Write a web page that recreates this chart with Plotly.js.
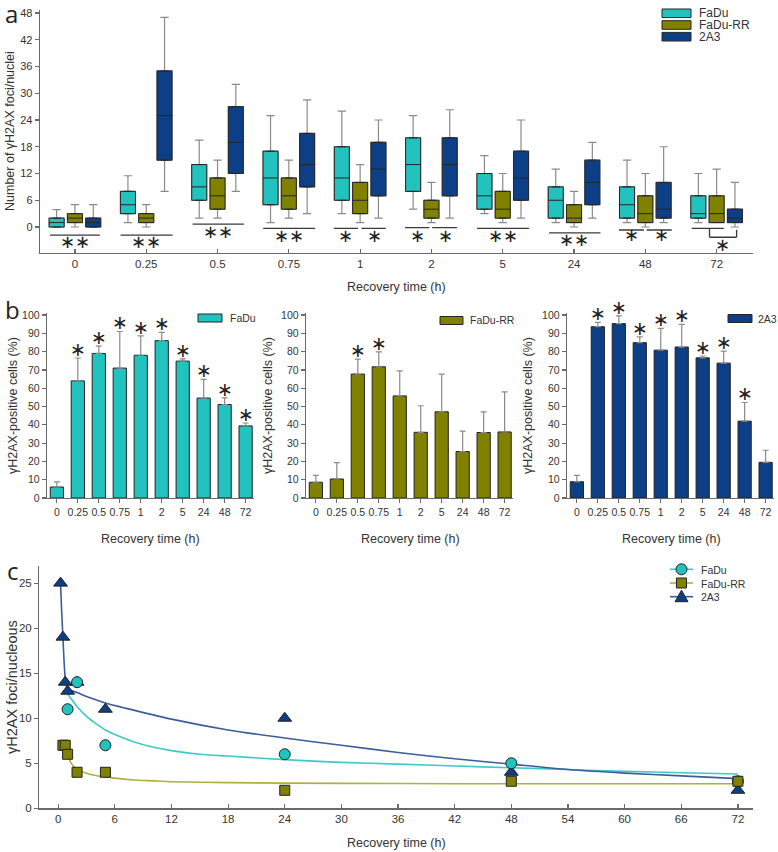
<!DOCTYPE html>
<html><head><meta charset="utf-8">
<script src="https://cdn.plot.ly/plotly-3.0.1.min.js"></script>
<style>html,body{margin:0;padding:0;background:#fff}#chart{width:778px;height:852px}</style>
</head><body><div id="chart"></div>
<script>
// ---------- categories ----------
const times = ["0","0.25","0.5","0.75","1","2","5","24","48","72"];
const lineNames = ["FaDu","FaDu-RR","2A3"];

// ---------- panel a: box statistics (foci per nucleus) ----------
const faduLow  = [0,1,2,1,3,4,3,1,1,1];
const faduQ1   = [0,3,6,5,6,8,4,2,2,2];
const faduMed  = [1,5,9,11,11,14,7,6,5,3];
const faduQ3   = [2,8,14,17,18,20,12,9,9,7];
const faduHigh = [3.9,11.5,19.5,25,26,25,16,13,15,12];

const rrLow  = [0,0,2,2,1,1,1,0,0,1];
const rrQ1   = [1,1,4,4,3,2,2,1,1,1];
const rrMed  = [2,2,7,7,6,4,4,2,3,3];
const rrQ3   = [3,3,11,11,10,6,8,5,7,7];
const rrHigh = [5,5,15,15,14,10,12,8,12,13];

const a3Low  = [0,8,8,3,2,2,2,2,1,0];
const a3Q1   = [0,15,12,9,7,7,6,5,2,1];
const a3Med  = [1,25,19,14,13,14,11,10,4,2];
const a3Q3   = [2,35,27,21,19,20,17,15,10,4];
const a3High = [5,47,32,28.5,24,26.3,24,19,18,10];

// significance marks for panel a: [x0, x1, y] lines and [x, y, text] stars
const sigLines = [[-0.35,0.35,-1.8],[0.64,1.37,-1.8],[1.65,2.37,0.67],[2.64,3.37,-0.3],
  [3.63,3.97,-0.3],[4.02,4.36,-0.3],[4.63,4.97,-0.15],[5.01,5.36,-0.15],
  [5.64,6.37,-0.3],[6.65,7.37,-1.3],[7.63,7.98,-0.67],[8.02,8.37,-0.67],[8.65,9.1,-0.3],
  [8.9,9.28,-2.3]];
const sigVLines = [[8.9,-0.3,-2.3],[9.28,-2.3,-0.6]];
const sigStars = [[0,-3.3,'∗∗'],[1,-3.3,'∗∗'],[2,-0.9,'∗∗'],[3,-1.8,'∗∗'],[3.8,-1.8,'∗'],[4.2,-1.8,'∗'],
  [4.8,-1.8,'∗'],[5.2,-1.8,'∗'],[6,-1.9,'∗∗'],[7,-2.8,'∗∗'],[7.81,-1.7,'∗'],[8.22,-1.7,'∗'],[9.08,-4.0,'∗']];

// ---------- panel b: % positive cells (mean, upper error) ----------
const pctFaDu = [6,64,79,71,78,86,74.8,54.6,51.1,39.4];
const errFaDu = [2.8,12.5,4,20,10.6,4.5,1.2,10.2,3.6,1.6];
const starFaDu = [0,1,1,1,1,1,1,1,1,1];
const pctRR = [8.6,10.4,67.7,71.7,55.8,35.9,47.1,25.4,35.8,36.1];
const errRR = [3.8,8.9,8.2,8.2,13.7,14.5,20.6,11.1,11.3,21.9];
const starRR = [0,0,1,1,0,0,0,0,0,0];
const pct2A3 = [8.9,93.6,95.3,84.9,80.8,82.5,76.6,73.7,42,19.5];
const err2A3 = [3.5,2.4,4.2,3.2,11.9,12.4,1,6.6,10.2,6.6];
const star2A3 = [0,1,1,1,1,1,1,1,1,0];

// ---------- panel c: foci per nucleus vs time, with fitted curves ----------
const cFaDuT = [1,2,5,24,48,72];
const cFaDuY = [11,14,7,6,5,3];
const cRRT = [0.5,0.75,1,2,5,24,48,72];
const cRRY = [7,7,6,4,4,2,3,3];
const c2A3T = [0.25,0.5,0.75,1,2,5,24,48,72];
const c2A3Y = [25,19,14,13,14,11,10,4,2];

const fitFaDuT = [1,1.5,2,3,4,5,6,8,10,12,15,18,24,30,36,42,48,54,60,66,72];
const fitFaDuY = [12.7,12.0,11.3,10.2,9.4,8.7,8.2,7.4,6.8,6.4,6.0,5.8,5.4,5.1,4.9,4.7,4.5,4.3,4.1,3.95,3.8];
const fitRRT = [1,1.5,2,3,4,5,6,8,10,12,18,24,36,48,60,72];
const fitRRY = [5.8,4.8,4.3,3.9,3.65,3.5,3.35,3.15,3.05,2.95,2.85,2.8,2.75,2.72,2.72,2.72];
const fit2A3T = [0.25,0.35,0.5,0.6,0.7,0.8,0.9,1,1.3,2,3,5,8,12,18,24,30,36,42,48,54,60,66,72];
const fit2A3Y = [25,22.3,19,16.8,15,14,13.5,13.25,13.1,12.85,12.4,11.7,10.9,9.9,8.7,7.8,7.0,6.2,5.5,4.9,4.3,3.9,3.6,3.3];

// ---------- styling ----------
const colFaDu = '#22C2BE', colRR = '#818100', col2A3 = '#0D3F86';
const lineFaDu = '#3FC9C6', lineRR = '#B0B03C', line2A3 = '#3B5E9B';
const fillOf = {'FaDu': colFaDu, 'FaDu-RR': colRR, '2A3': col2A3};
const lineOf = {'FaDu': lineFaDu, 'FaDu-RR': lineRR, '2A3': line2A3};
const FONT = 'Liberation Sans, Arial, sans-serif';
const txt = '#333';
const W = 778, H = 852;
const px = v => v / W, py = v => 1 - v / H;

const traces = [];
// panel a: whisker layer (grey) + box layer (dark outline)
const boxSets = [
  ['FaDu', faduLow, faduQ1, faduMed, faduQ3, faduHigh],
  ['FaDu-RR', rrLow, rrQ1, rrMed, rrQ3, rrHigh],
  ['2A3', a3Low, a3Q1, a3Med, a3Q3, a3High]
];
boxSets.forEach(([name, lo, q1, md, q3, hi]) => {
  traces.push({type:'box', x: times, q1: q1, median: md, q3: q3, lowerfence: lo, upperfence: hi,
    name: name, offsetgroup: name, xaxis:'x', yaxis:'y', boxpoints:false, showlegend:false,
    fillcolor:'rgba(0,0,0,0)', line:{color:'#8a8a8a', width:1.2}, whiskerwidth:0.55, hoverinfo:'skip'});
  traces.push({type:'box', x: times, q1: q1, median: md, q3: q3,
    name: name, offsetgroup: name, xaxis:'x', yaxis:'y', boxpoints:false, showlegend:false,
    fillcolor: fillOf[name], line:{color:'#262626', width:1}, whiskerwidth:0.55});
});

// panel b bars
const barSets = [
  ['FaDu', pctFaDu, errFaDu, starFaDu, 'x2','y2'],
  ['FaDu-RR', pctRR, errRR, starRR, 'x3','y3'],
  ['2A3', pct2A3, err2A3, star2A3, 'x4','y4']
];
barSets.forEach(([name, v, e, s, xa, ya]) => {
  traces.push({type:'bar', x: times, y: v, name: name, xaxis: xa, yaxis: ya, showlegend:false,
    marker:{color: fillOf[name], line:{color:'#222', width:1}},
    error_y:{type:'data', array: e, arrayminus: e.map(()=>0), symmetric:false,
      color:'#8a8a8a', thickness:1.2, width:3}});
});

// panel c: fitted curves
[[fitFaDuT, fitFaDuY, lineFaDu],[fitRRT, fitRRY, lineRR],[fit2A3T, fit2A3Y, line2A3]].forEach(([t, y, c]) => {
  traces.push({type:'scatter', mode:'lines', x: t, y: y, xaxis:'x5', yaxis:'y5', showlegend:false,
    line:{color: c, width:1.6, shape:'spline', smoothing:0.6}, hoverinfo:'skip'});
});
// panel c: points (draw order 2A3, FaDu, FaDu-RR)
const ptSets = {
  'FaDu': [cFaDuT, cFaDuY, 'circle', 11],
  'FaDu-RR': [cRRT, cRRY, 'square', 10],
  '2A3': [c2A3T, c2A3Y, 'triangle-up', 12]
};
['2A3','FaDu','FaDu-RR'].forEach(n => {
  const [t, y, sym, sz] = ptSets[n];
  traces.push({type:'scatter', mode:'markers', x: t, y: y, xaxis:'x5', yaxis:'y5', showlegend:false,
    cliponaxis:false, name:n, marker:{symbol: sym, size: sz, color: fillOf[n], line:{color:'#222', width:1}}});
});

// ---------- annotations and shapes ----------
const annotations = [];
const shapes = [];
const ann = (x, y, text, size, extra) => annotations.push(Object.assign({
  xref:'paper', yref:'paper', x: px(x), y: py(y), text: text, showarrow:false,
  font:{family: FONT, size: size, color: txt}, xanchor:'center', yanchor:'middle'}, extra || {}));
const LETTER = {family:'Open Sans, DejaVu Sans, sans-serif', size:24, color:'#222'};

// panel letters
ann(3, 13, 'a', 24, {xanchor:'left', font: LETTER});
ann(3, 309, 'b', 24, {xanchor:'left', font: LETTER});
ann(5, 570, 'c', 24, {xanchor:'left', font: LETTER});

// axis titles
ann(396, 287, 'Recovery time (h)', 12.5);
ann(10, 131, 'Number of γH2AX foci/nuclei', 12.5, {textangle:-90});
ann(150, 539, 'Recovery time (h)', 12.5);
ann(410, 539, 'Recovery time (h)', 12.5);
ann(671, 539, 'Recovery time (h)', 12.5);
ann(13, 406, 'γH2AX-positive cells (%)', 12.5, {textangle:-90});
ann(268, 406, 'γH2AX-positive cells (%)', 12.5, {textangle:-90});
ann(528, 406, 'γH2AX-positive cells (%)', 12.5, {textangle:-90});
ann(396, 843, 'Recovery time (h)', 12.5);
ann(12, 687, 'γH2AX foci/nucleous', 14.5, {textangle:-90});

// panel a significance
sigLines.forEach(([x0, x1, y]) => shapes.push({type:'line', xref:'x', yref:'y', x0:x0, x1:x1, y0:y, y1:y,
  line:{color:'#3a3a3a', width:1.3}}));
sigVLines.forEach(([x, y0, y1]) => shapes.push({type:'line', xref:'x', yref:'y', x0:x, x1:x, y0:y0, y1:y1,
  line:{color:'#3a3a3a', width:1.3}}));
sigStars.forEach(([x, y, t]) => annotations.push({xref:'x', yref:'y', x:x, y:y, text:t, showarrow:false,
  font:{family:'DejaVu Sans, sans-serif', size:18, color:'#222'}, xanchor:'center', yanchor:'middle'}));

// panel b stars (x given as category index)
barSets.forEach(([name, v, e, s, xa, ya]) => {
  v.forEach((val, i) => { if (s[i]) annotations.push({xref: xa, yref: ya, x: i, y: val + e[i],
    text:'∗', showarrow:false, yshift:9, font:{family:'DejaVu Sans, sans-serif', size:19, color:'#222'},
    xanchor:'center', yanchor:'middle'}); });
});

// ---------- legends (drawn as keys) ----------
// panel a key
lineNames.forEach((n, i) => {
  const yc = 13.3 + i * 11.7;
  shapes.push({type:'rect', xref:'paper', yref:'paper', x0: px(662), x1: px(691), y0: py(yc + 4.3), y1: py(yc - 4.3),
    fillcolor: fillOf[n], line:{color:'#262626', width:1}});
  ann(697, yc, n, 12, {xanchor:'left', height: 11.5});
});
// panel b keys
[['FaDu', 198, 222, 318, 228], ['FaDu-RR', 440, 463, 320.5, 468], ['2A3', 728, 752, 318.5, 756]]
 .forEach(([n, x0, x1, yc, tx]) => {
  shapes.push({type:'rect', xref:'paper', yref:'paper', x0: px(x0), x1: px(x1), y0: py(yc + 4), y1: py(yc - 4),
    fillcolor: fillOf[n], line:{color:'#262626', width:1}});
  ann(tx, yc, n, 10.5, {xanchor:'left'});
 });
// panel c key
lineNames.forEach((n, i) => {
  const yc = 569.3 + i * 13.7, xc = 681.5;
  shapes.push({type:'line', xref:'paper', yref:'paper', x0: px(670), x1: px(693), y0: py(yc), y1: py(yc),
    line:{color: lineOf[n], width:1.6}});
  const mk = {xref:'paper', yref:'paper', fillcolor: fillOf[n], line:{color:'#222', width:1}};
  if (n === 'FaDu') shapes.push(Object.assign({type:'circle', x0: px(xc-5.5), x1: px(xc+5.5), y0: py(yc+5.5), y1: py(yc-5.5)}, mk));
  else if (n === 'FaDu-RR') shapes.push(Object.assign({type:'rect', x0: px(xc-5), x1: px(xc+5), y0: py(yc+5), y1: py(yc-5)}, mk));
  else shapes.push(Object.assign({type:'path', path: 'M' + px(xc-6.5) + ',' + py(yc+5) + ' L' + px(xc+6.5) + ',' + py(yc+5) +
    ' L' + px(xc) + ',' + py(yc-6.5) + ' Z'}, mk));
  ann(699, yc, n, 10.5, {xanchor:'left', height: 13});
});

// ---------- axes ----------
const axBase = {showline:true, linecolor:'#6a6a6a', linewidth:1.3, showgrid:false, zeroline:false,
  tickcolor:'#6a6a6a', tickwidth:1.2, ticklen:4, tickfont:{family: FONT, size:11, color: txt}, fixedrange:true};
const catX = (dom, anchor, range, ticks, fs) => Object.assign({}, axBase, {domain: dom, anchor: anchor,
  type:'category', categoryorder:'array', categoryarray: times, range: range, ticks: ticks, tickangle:0,
  tickfont:{family: FONT, size: fs, color: txt}});
const bY = (dom, anchor) => Object.assign({}, axBase, {domain: dom, anchor: anchor, range:[0,101.1],
  tickvals:[0,10,20,30,40,50,60,70,80,90,100], ticks:'outside', tickfont:{family: FONT, size:10.5, color: txt}});
const bYdom = [py(498), py(313)];

const layout = {
  width: W, height: H, margin:{l:0, r:0, t:0, b:0}, paper_bgcolor:'#fff', plot_bgcolor:'rgba(0,0,0,0)',
  font:{family: FONT, color: txt}, showlegend:false,
  boxmode:'group', boxgap:0.23, boxgroupgap:0.18, bargap:0.37,
  xaxis: catX([px(40), px(753)], 'y', [-0.49, 9.51], 'inside', 11.5),
  yaxis: Object.assign({}, axBase, {domain:[py(252.7), py(10)], anchor:'x', range:[-5.76, 48.67],
    tickvals:[0,6,12,18,24,30,36,42,48], ticks:'outside', tickfont:{family: FONT, size:11, color: txt}}),
  xaxis2: catX([px(47), px(254)], 'y2', [-0.47, 9.4], 'outside', 10.5),
  yaxis2: bY(bYdom, 'x2'),
  xaxis3: catX([px(306), px(513)], 'y3', [-0.47, 9.4], 'outside', 10.5),
  yaxis3: bY(bYdom, 'x3'),
  xaxis4: catX([px(567), px(774)], 'y4', [-0.47, 9.4], 'outside', 10.5),
  yaxis4: bY(bYdom, 'x4'),
  xaxis5: Object.assign({}, axBase, {domain:[px(39.3), px(753)], anchor:'y5', range:[-2.0, 73.6],
    tickvals:[0,6,12,18,24,30,36,42,48,54,60,66,72], ticks:'inside', tickfont:{family: FONT, size:11.5, color: txt}}),
  yaxis5: Object.assign({}, axBase, {domain:[py(808.3), py(566)], anchor:'x5', range:[0, 26.9],
    tickvals:[0,5,10,15,20,25], ticks:'outside', tickfont:{family: FONT, size:11.5, color: txt}}),
  annotations: annotations, shapes: shapes
};

Plotly.newPlot('chart', traces, layout, {staticPlot:true, displayModeBar:false});
</script></body></html>
